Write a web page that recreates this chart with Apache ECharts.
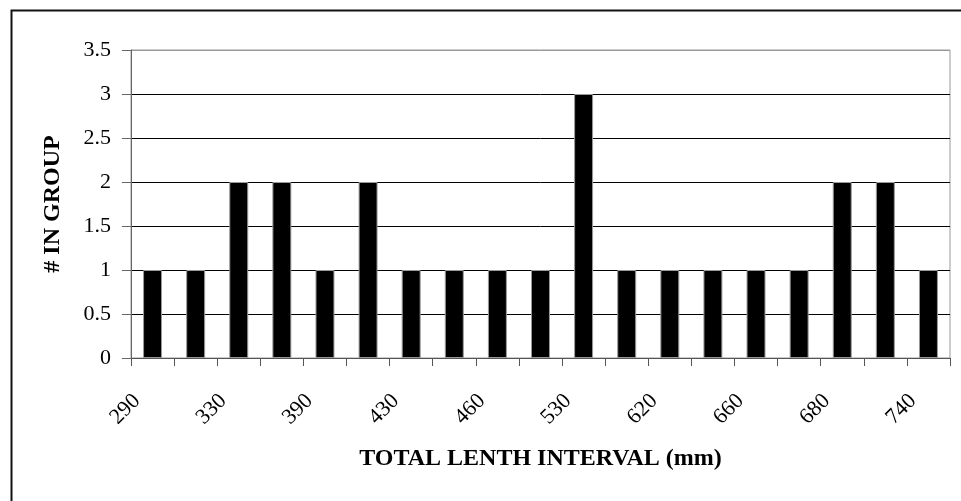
<!DOCTYPE html>
<html>
<head>
<meta charset="utf-8">
<script src="https://cdn.jsdelivr.net/npm/echarts@6/dist/echarts.min.js"></script>
<style>
  html, body { margin: 0; padding: 0; background: #fff; }
  #chart { width: 961px; height: 501px; }
</style>
</head>
<body>
<div id="chart"></div>
<script>
// Length classes (mm); only every other one gets a printed label
const lengthClasses = ['290', '310', '330', '360', '390', '410', '430', '440', '460', '500',
                       '530', '560', '620', '640', '660', '670', '680', '710', '740'];
// Number of fish in each length class
const groupCounts = [1, 1, 2, 2, 1, 2, 1, 1, 1, 1, 3, 1, 1, 1, 1, 1, 2, 2, 1];
// Value axis settings
const countMin = 0;
const countMax = 3.5;
const countStep = 0.5;

const serif = "'Liberation Serif', 'Times New Roman', serif";

const chart = echarts.init(document.getElementById('chart'), null, { renderer: 'canvas' });

chart.setOption({
  animation: false,
  backgroundColor: '#ffffff',
  graphic: [{
    type: 'rect',
    left: 9, top: 8,
    shape: { width: 1000, height: 600 },
    style: { fill: 'none', stroke: '#111', lineWidth: 2 },
    silent: true
  }],
  grid: {
    left: 131, top: 50, right: 11, bottom: 143,
    show: true, borderColor: '#999', borderWidth: 1,
    backgroundColor: 'transparent'
  },
  xAxis: {
    type: 'category',
    data: lengthClasses,
    boundaryGap: true,
    name: 'TOTAL LENTH INTERVAL (mm)',
    nameLocation: 'middle',
    nameGap: 89,
    nameTextStyle: { fontFamily: serif, fontWeight: 'bold', fontSize: 24, color: '#000' },
    axisLine: { lineStyle: { color: '#555', width: 1 } },
    axisTick: { show: true, interval: 0, alignWithLabel: false, length: 8, lineStyle: { color: '#555' } },
    axisLabel: {
      interval: 1,
      rotate: 45,
      margin: 24,
      padding: [0, 22, 0, 0],
      fontFamily: serif, fontSize: 22, color: '#000'
    },
    splitLine: { show: false }
  },
  yAxis: {
    type: 'value',
    min: countMin, max: countMax, interval: countStep,
    name: '# IN GROUP',
    nameLocation: 'middle',
    nameRotate: 90,
    nameGap: 66,
    nameTextStyle: { fontFamily: serif, fontWeight: 'bold', fontSize: 24, color: '#000' },
    axisLine: { show: true, lineStyle: { color: '#666', width: 1 } },
    axisTick: { show: true, length: 9, lineStyle: { color: '#666' } },
    axisLabel: { margin: 20, fontFamily: serif, fontSize: 22, color: '#000' },
    splitLine: { show: true, lineStyle: { color: ['#666', '#000', '#000', '#000', '#000', '#000', '#000', '#999'], width: 1 } }
  },
  series: [{
    type: 'bar',
    data: groupCounts,
    barWidth: '44%',
    itemStyle: { color: '#000', borderColor: '#999', borderWidth: 1 }
  }]
});
</script>
</body>
</html>
